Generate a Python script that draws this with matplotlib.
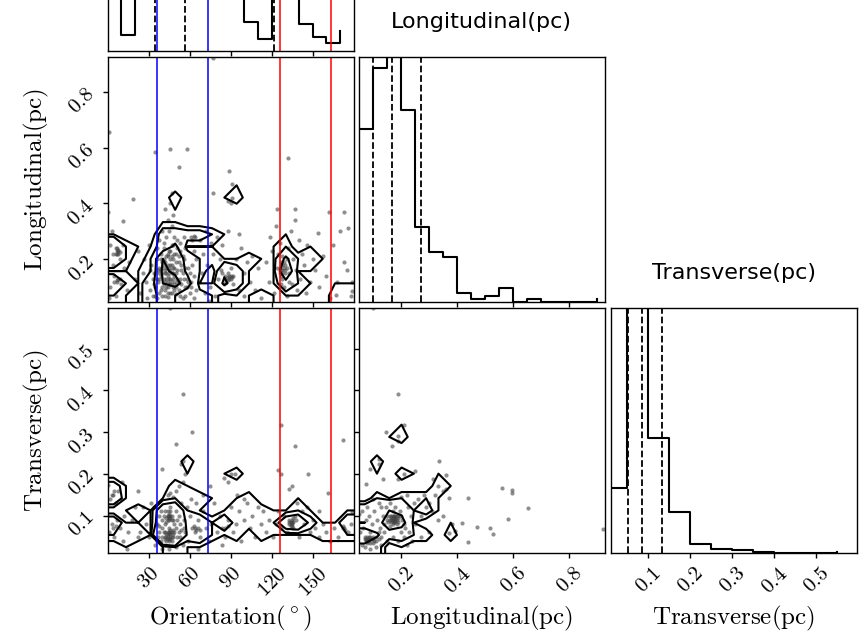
import numpy as np
import matplotlib
matplotlib.use("Agg")
import matplotlib.pyplot as plt
from matplotlib.ticker import FixedLocator, FuncFormatter, NullLocator

plt.rcParams['mathtext.fontset'] = 'cm'
plt.rcParams['font.family'] = ['DejaVu Sans']

# ---------------- data ----------------
# 1D histograms: left bin edges and counts
ori_left = np.arange(0, 171, 10)
ori_counts = [40, 8, 45, 60, 70, 55, 40, 35, 35, 35, 14, 6, 35, 35, 13, 7, 4, 10]
lon_left = np.round(np.arange(0.05, 0.901, 0.05), 3)
lon_counts = [62, 84, 100, 69, 27, 18, 16, 3, 1, 2, 5, 0, 1, 0, 0, 0, 0, 1]
tra_left = np.round(np.arange(0.0, 0.551, 0.05), 3)
tra_counts = [41, 240, 73, 26, 6, 3, 2, 1, 0, 0, 0, 1]

# quantile (dashed) lines
ori_q = [35.1, 56.7, 122.0]
lon_q = [0.098, 0.167, 0.270]
tra_q = [0.051, 0.086, 0.133]
# reference orientation lines
blue_lines = [36.2, 73.5]
red_lines = [126.2, 163.5]

# axis ranges
ori_range = (0.0, 180.0)
lon_range = (0.048, 0.926)
tra_range = (0.0098, 0.597)

ori_ticks = [30, 60, 90, 120, 150]
lon_ticks = [0.2, 0.4, 0.6, 0.8]
tra_ticks = [0.1, 0.2, 0.3, 0.4, 0.5]

# scatter: Orientation vs Longitudinal
pts_A = np.array([
    (1, 0.655), (35, 0.585), (46, 0.596), (58, 0.596), (52, 0.53), (132, 0.563), (89, 0.518),
    (91, 0.47), (19, 0.415), (47, 0.438), (77, 0.436), (11, 0.336), (0.5, 0.37), (124, 0.381),
    (137, 0.381), (162, 0.37), (173, 0.37), (176, 0.313), (154, 0.293), (173, 0.19), (179, 0.12),
    (179, 0.087), (167, 0.073), (77, 0.92),
    (36, 0.06), (38, 0.08), (40, 0.07), (42, 0.09), (44, 0.065), (46, 0.08), (48, 0.1), (50, 0.075),
    (52, 0.09), (54, 0.11), (37, 0.12), (39, 0.14), (41, 0.11), (43, 0.13), (45, 0.15), (47, 0.12),
    (49, 0.14), (51, 0.16), (53, 0.13), (55, 0.15), (38, 0.17), (40, 0.19), (42, 0.16), (44, 0.18),
    (46, 0.2), (48, 0.17), (50, 0.19), (52, 0.21), (54, 0.18), (56, 0.2), (39, 0.22), (41, 0.24),
    (43, 0.21), (45, 0.23), (47, 0.25), (49, 0.22), (51, 0.24), (53, 0.26), (35, 0.1), (34, 0.15),
    (36, 0.2), (57, 0.1), (58, 0.13), (59, 0.17), (60, 0.08), (61, 0.12), (57, 0.24), (44, 0.1),
    (46, 0.13), (48, 0.15), (42, 0.12), (45, 0.17), (47, 0.18), (49, 0.11), (43, 0.15), (46, 0.16),
    (44, 0.14), (50, 0.12), (41, 0.18), (39, 0.09), (53, 0.07), (55, 0.06), (57, 0.07), (33, 0.07),
    (31, 0.09), (32, 0.18), (30, 0.25), (28, 0.12), (27, 0.2), (29, 0.06),
    (40, 0.1), (41, 0.13), (42, 0.15), (43, 0.17), (44, 0.12), (45, 0.13), (46, 0.11), (47, 0.15),
    (48, 0.13), (49, 0.17), (50, 0.15), (51, 0.13), (45, 0.11), (43, 0.1), (47, 0.08), (49, 0.09),
    (44, 0.08), (42, 0.07), (40, 0.15), (46, 0.18), (48, 0.2), (50, 0.1), (52, 0.12), (41, 0.2),
    (44, 0.22), (47, 0.21), (38, 0.13), (39, 0.16),
    (34, 0.11), (36, 0.13), (38, 0.15), (40, 0.17), (42, 0.19), (44, 0.21), (46, 0.23), (48, 0.25),
    (50, 0.22), (52, 0.19), (54, 0.16), (56, 0.13), (58, 0.1), (60, 0.15), (62, 0.18), (35, 0.07),
    (37, 0.16), (39, 0.2), (41, 0.26), (43, 0.28), (45, 0.3), (47, 0.32), (49, 0.28), (51, 0.27),
    (53, 0.23), (55, 0.21), (57, 0.17), (59, 0.12), (61, 0.1), (63, 0.14), (33, 0.13), (31, 0.16),
    (36, 0.24), (38, 0.27), (40, 0.3), (44, 0.34), (48, 0.36), (46, 0.4), (42, 0.38), (56, 0.28),
    (63, 0.06), (65, 0.09), (67, 0.12), (69, 0.15), (71, 0.08), (73, 0.18), (75, 0.1), (77, 0.22),
    (79, 0.07), (81, 0.13), (83, 0.16), (85, 0.11), (86, 0.14), (87, 0.12), (88, 0.15), (89, 0.13),
    (90, 0.17), (92, 0.11), (94, 0.2), (96, 0.09), (98, 0.24), (100, 0.15), (102, 0.19), (104, 0.12),
    (106, 0.21), (108, 0.09), (110, 0.17), (65, 0.2), (68, 0.27), (72, 0.3), (76, 0.26), (80, 0.28),
    (84, 0.25), (88, 0.3), (63, 0.23), (70, 0.22), (90, 0.4), (88, 0.41), (91, 0.42), (64, 0.28),
    (62, 0.27), (100, 0.07), (112, 0.06), (96, 0.29), (74, 0.05), (82, 0.2),
    (86, 0.13), (88, 0.135), (90, 0.14), (84, 0.15), (92, 0.14),
    (89, 0.14), (90, 0.13), (91, 0.135), (88, 0.125), (61, 0.28), (63, 0.285),
    (116, 0.19), (118, 0.12), (120, 0.23), (122, 0.08), (124, 0.17), (126, 0.26), (127, 0.14),
    (128, 0.21), (129, 0.1), (130, 0.18), (131, 0.07), (132, 0.24), (133, 0.15), (134, 0.3),
    (135, 0.11), (136, 0.2), (137, 0.34), (138, 0.16), (139, 0.09), (140, 0.27), (141, 0.13),
    (142, 0.22), (144, 0.18), (146, 0.25), (148, 0.12), (150, 0.2), (125, 0.22), (127, 0.19),
    (128, 0.16), (131, 0.2), (133, 0.12), (119, 0.28), (123, 0.32), (145, 0.08), (152, 0.16),
    (126, 0.17), (128, 0.13), (130, 0.15), (129, 0.19), (127, 0.11),
    (127, 0.16), (128, 0.18), (129, 0.17), (130, 0.16), (127, 0.18), (128, 0.15), (126, 0.15),
    (131, 0.17),
    (2, 0.1), (4, 0.22), (5, 0.14), (6, 0.24), (7, 0.12), (8, 0.23), (9, 0.2), (10, 0.11), (3, 0.3),
    (1, 0.06), (6, 0.07), (12, 0.17), (14, 0.09), (16, 0.19), (20, 0.13), (22, 0.23),
    (24, 0.08), (26, 0.15), (8, 0.13), (4, 0.18), (11, 0.25), (2, 0.25),
    (6, 0.22), (7, 0.23), (5, 0.12), (7, 0.22), (8, 0.235), (9, 0.225), (8, 0.22), (7, 0.24),
    (7, 0.125), (9, 0.13),
    (155, 0.1), (158, 0.21), (160, 0.14), (163, 0.06), (165, 0.25), (168, 0.12), (170, 0.3),
    (175, 0.16), (178, 0.07),
])
ori_A, lon_A = pts_A.T

# scatter: Orientation vs Transverse
pts_B = np.array([
    (45.7, 0.597), (55.5, 0.392), (61.6, 0.301), (50, 0.272), (40.2, 0.213),
    (35, 0.03), (37, 0.05), (39, 0.04), (41, 0.06), (43, 0.05), (45, 0.07), (47, 0.04), (49, 0.06),
    (51, 0.05), (53, 0.08), (55, 0.03), (57, 0.06), (59, 0.04), (36, 0.08), (38, 0.1), (40, 0.09),
    (42, 0.11), (44, 0.1), (46, 0.12), (48, 0.09), (50, 0.11), (52, 0.1), (54, 0.13), (56, 0.09),
    (58, 0.12), (60, 0.1), (44, 0.15), (46, 0.155), (48, 0.145), (42, 0.06), (44, 0.055), (46, 0.05),
    (48, 0.065), (40, 0.07), (38, 0.06), (45, 0.09), (47, 0.1), (43, 0.085), (49, 0.08), (51, 0.09),
    (34, 0.12), (32, 0.13), (30, 0.05), (28, 0.08), (26, 0.12), (24, 0.06), (55, 0.18), (52, 0.17),
    (57, 0.2), (50, 0.16), (62, 0.07), (61, 0.14), (45, 0.02), (50, 0.025), (40, 0.02), (54, 0.065),
    (56, 0.07), (39, 0.11),
    (40, 0.05), (42, 0.045), (44, 0.06), (46, 0.065), (48, 0.05), (43, 0.04), (45, 0.045),
    (41, 0.1), (43, 0.095), (45, 0.1), (47, 0.09), (44, 0.11), (46, 0.095), (42, 0.08), (47, 0.06),
    (52, 0.06), (50, 0.07), (53, 0.05), (38, 0.075), (36, 0.04),
    (44, 0.05), (45, 0.055), (46, 0.045), (45, 0.06), (44, 0.045), (46, 0.055), (47, 0.05),
    (43, 0.055), (45, 0.04), (42, 0.05), (48, 0.055), (46, 0.06),
    (44, 0.1), (45, 0.105), (46, 0.1), (45, 0.095), (44, 0.09), (46, 0.11),
    (55, 0.23), (54, 0.225),
    (64, 0.06), (66, 0.09), (68, 0.05), (70, 0.11), (72, 0.07), (74, 0.04), (76, 0.08), (78, 0.13),
    (80, 0.06), (82, 0.1), (84, 0.07), (86, 0.05), (88, 0.09), (90, 0.12), (92, 0.06), (94, 0.08),
    (96, 0.11), (98, 0.04), (100, 0.09), (102, 0.13), (104, 0.07), (106, 0.1), (108, 0.05),
    (110, 0.12), (112, 0.08), (114, 0.11), (116, 0.06), (118, 0.09), (85, 0.19), (88, 0.18),
    (90, 0.2), (93, 0.2), (70, 0.15), (75, 0.17), (95, 0.15), (65, 0.13), (100, 0.14), (84, 0.03),
    (66, 0.02), (66, 0.07), (68, 0.065), (86, 0.07), (88, 0.075),
    (64, 0.07), (65, 0.065), (63, 0.075),
    (121, 0.05), (123, 0.08), (125, 0.11), (127, 0.07), (129, 0.1), (131, 0.06), (133, 0.09),
    (134, 0.08), (135, 0.085), (136, 0.07), (137, 0.1), (138, 0.09), (139, 0.13), (140, 0.05),
    (142, 0.11), (144, 0.08), (146, 0.12), (148, 0.06), (150, 0.09), (152, 0.07), (155, 0.05),
    (158, 0.08), (160, 0.06), (163, 0.04), (166, 0.07), (169, 0.05), (172, 0.07), (174, 0.065),
    (176, 0.06), (178, 0.08), (135, 0.17), (133, 0.165), (127, 0.2), (147, 0.2), (125, 0.21),
    (161, 0.155), (155, 0.112), (179, 0.108), (137, 0.268), (127, 0.318), (172.6, 0.282),
    (133, 0.08), (135, 0.09), (136, 0.095), (134, 0.075),
    (134, 0.085), (135, 0.08), (136, 0.085), (135, 0.075), (133, 0.085), (173, 0.07), (172, 0.075),
    (1, 0.06), (3, 0.08), (5, 0.05), (7, 0.09), (9, 0.07), (11, 0.04), (2, 0.14), (4, 0.15),
    (6, 0.13), (8, 0.16), (10, 0.14), (12, 0.1), (15, 0.06), (18, 0.09), (20, 0.12), (22, 0.05),
    (0.6, 0.174), (10.4, 0.18), (22.5, 0.16), (14, 0.02),
    (3, 0.15), (5, 0.16), (4, 0.07), (6, 0.075),
])
ori_B, tra_B = pts_B.T

# scatter: Longitudinal vs Transverse
pts_C = np.array([
    (0.098, 0.597), (0.19, 0.392), (0.145, 0.301), (0.212, 0.318), (0.169, 0.268), (0.19, 0.28),
    (0.19, 0.29), (0.088, 0.213), (0.122, 0.225), (0.122, 0.235), (0.076, 0.176), (0.134, 0.188),
    (0.19, 0.188), (0.212, 0.2), (0.248, 0.208), (0.336, 0.232), (0.36, 0.198), (0.315, 0.188),
    (0.372, 0.142), (0.439, 0.143), (0.561, 0.167), (0.595, 0.155), (0.595, 0.162), (0.652, 0.118),
    (0.583, 0.091), (0.416, 0.082), (0.471, 0.072), (0.516, 0.071), (0.528, 0.057), (0.439, 0.037),
    (0.372, 0.058), (0.392, 0.063), (0.921, 0.068), (0.05, 0.105),
    (0.06, 0.03), (0.07, 0.05), (0.08, 0.04), (0.09, 0.06), (0.1, 0.035), (0.11, 0.05), (0.12, 0.045),
    (0.065, 0.07), (0.075, 0.09), (0.085, 0.1), (0.095, 0.08), (0.105, 0.11), (0.115, 0.09),
    (0.125, 0.07), (0.135, 0.1), (0.145, 0.12), (0.155, 0.085), (0.165, 0.095), (0.175, 0.1),
    (0.185, 0.08), (0.195, 0.11), (0.205, 0.09), (0.215, 0.07), (0.225, 0.12), (0.235, 0.1),
    (0.245, 0.13), (0.16, 0.075), (0.17, 0.11), (0.18, 0.09), (0.19, 0.095), (0.2, 0.06),
    (0.15, 0.1), (0.14, 0.08), (0.13, 0.12), (0.12, 0.13), (0.1, 0.14), (0.08, 0.12), (0.06, 0.11),
    (0.055, 0.06), (0.07, 0.025), (0.09, 0.02), (0.11, 0.025), (0.13, 0.03), (0.15, 0.04),
    (0.17, 0.05), (0.19, 0.04), (0.21, 0.05), (0.23, 0.06), (0.25, 0.08), (0.27, 0.1), (0.29, 0.12),
    (0.31, 0.11), (0.33, 0.09), (0.35, 0.1), (0.38, 0.08), (0.26, 0.14), (0.28, 0.15), (0.3, 0.13),
    (0.32, 0.15), (0.35, 0.16), (0.36, 0.165), (0.33, 0.17), (0.22, 0.15), (0.2, 0.145),
    (0.16, 0.13), (0.18, 0.12), (0.17, 0.085), (0.175, 0.09), (0.18, 0.1), (0.165, 0.1),
    (0.19, 0.085), (0.1, 0.05), (0.095, 0.045), (0.105, 0.04), (0.085, 0.05), (0.24, 0.04),
    (0.27, 0.05), (0.3, 0.06), (0.22, 0.03),
    (0.17, 0.09), (0.18, 0.095), (0.185, 0.09), (0.175, 0.085), (0.17, 0.1), (0.19, 0.1),
    (0.16, 0.09), (0.2, 0.1), (0.15, 0.09), (0.21, 0.08), (0.09, 0.045), (0.1, 0.045),
    (0.08, 0.045), (0.11, 0.04), (0.09, 0.035), (0.12, 0.06), (0.14, 0.06), (0.13, 0.05),
    (0.075, 0.045), (0.08, 0.04), (0.085, 0.045), (0.08, 0.05), (0.075, 0.04), (0.085, 0.04),
    (0.07, 0.045), (0.09, 0.05), (0.08, 0.035),
    (0.165, 0.09), (0.17, 0.095), (0.175, 0.095), (0.18, 0.085), (0.17, 0.08), (0.165, 0.085),
    (0.18, 0.09), (0.16, 0.1), (0.185, 0.1), (0.175, 0.1),
])
lon_C, tra_C = pts_C.T

# ---------------- figure ----------------
W, H = 866, 636
fig = plt.figure(figsize=(W / 100, H / 100), dpi=100)

def add_ax(x0, ytop, w=246, h=245):
    return fig.add_axes([x0 / W, 1 - (ytop + h) / H, w / W, h / H])

cols = [107.5, 358.5, 610.5]
rows = [51 - 245, 56.7, 308.3]

LAB = 18
TICK = 15
fmt = FuncFormatter(lambda v, p: r'$%g$' % v)

def style(ax):
    for s in ax.spines.values():
        s.set_linewidth(1.0)
    ax.tick_params(direction='out', length=3.5, width=1.0, labelsize=TICK)

def hist(ax, left, counts, rng, ymax, quant):
    ax.step(left, counts, where='post', color='k', lw=1.5)
    for q in quant:
        ax.axvline(q, color='k', ls='--', lw=1.3)
    ax.set_xlim(rng)
    ax.set_ylim(0, ymax)
    ax.yaxis.set_major_locator(NullLocator())

def density_contour(ax, x, y, xr, yr, bins=20):
    levels = 1.0 - np.exp(-0.5 * np.arange(0.5, 2.1, 0.5) ** 2)
    Hh, X, Y = np.histogram2d(x, y, bins=bins, range=[xr, yr])
    Hflat = np.sort(Hh.flatten())[::-1]
    sm = np.cumsum(Hflat)
    sm /= sm[-1]
    V = np.empty(len(levels))
    for i, v0 in enumerate(levels):
        try:
            V[i] = Hflat[sm <= v0][-1]
        except IndexError:
            V[i] = Hflat[0]
    V.sort()
    m = np.diff(V) == 0
    while np.any(m):
        V[np.where(m)[0][0]] *= 1.0 - 1e-4
        m = np.diff(V) == 0
    V.sort()
    X1, Y1 = 0.5 * (X[1:] + X[:-1]), 0.5 * (Y[1:] + Y[:-1])
    H2 = Hh.min() + np.zeros((Hh.shape[0] + 4, Hh.shape[1] + 4))
    H2[2:-2, 2:-2] = Hh
    H2[2:-2, 1] = Hh[:, 0]
    H2[2:-2, -2] = Hh[:, -1]
    H2[1, 2:-2] = Hh[0]
    H2[-2, 2:-2] = Hh[-1]
    H2[1, 1] = Hh[0, 0]
    H2[1, -2] = Hh[0, -1]
    H2[-2, 1] = Hh[-1, 0]
    H2[-2, -2] = Hh[-1, -1]
    X2 = np.concatenate([X1[0] + np.array([-2, -1]) * np.diff(X1[:2]), X1,
                         X1[-1] + np.array([1, 2]) * np.diff(X1[-2:])])
    Y2 = np.concatenate([Y1[0] + np.array([-2, -1]) * np.diff(Y1[:2]), Y1,
                         Y1[-1] + np.array([1, 2]) * np.diff(Y1[-2:])])
    ax.contour(X2, Y2, H2.T, V, colors='k', linewidths=1.5)

def scatter(ax, x, y):
    ax.plot(x, y, 'o', ms=3.0, color='#444444', alpha=0.6, mec='none')

def orient_lines(ax):
    for v in blue_lines:
        ax.axvline(v, color='#0000ff', lw=1.1)
    for v in red_lines:
        ax.axvline(v, color='#ff0000', lw=1.1)

# top histogram: orientation
ax0 = add_ax(cols[0], rows[0])
hist(ax0, ori_left, ori_counts, ori_range, 120, ori_q)
orient_lines(ax0)
ax0.xaxis.set_major_locator(FixedLocator(ori_ticks))
ax0.set_xticklabels([])
style(ax0)

# row 2: orientation vs longitudinal
axA = add_ax(cols[0], rows[1])
scatter(axA, ori_A, lon_A)
density_contour(axA, ori_A, lon_A, ori_range, lon_range)
orient_lines(axA)
axA.set_xlim(ori_range)
axA.set_ylim(lon_range)
axA.xaxis.set_major_locator(FixedLocator(ori_ticks))
axA.set_xticklabels([])
axA.yaxis.set_major_locator(FixedLocator(lon_ticks))
axA.yaxis.set_major_formatter(fmt)
axA.set_ylabel(r'$\mathrm{Longitudinal(pc)}$', fontsize=LAB)
axA.yaxis.set_label_coords(-0.23, 0.5)
style(axA)
for l in axA.get_yticklabels():
    l.set_rotation(45)

# longitudinal histogram
axL = add_ax(cols[1], rows[1])
hist(axL, lon_left, lon_counts, lon_range, 88, lon_q)
axL.xaxis.set_major_locator(FixedLocator(lon_ticks))
axL.set_xticklabels([])
axL.set_title('Longitudinal(pc)', fontsize=16, pad=21)
style(axL)

# row 3: orientation vs transverse
axB = add_ax(cols[0], rows[2])
scatter(axB, ori_B, tra_B)
density_contour(axB, ori_B, tra_B, ori_range, tra_range)
orient_lines(axB)
axB.set_xlim(ori_range)
axB.set_ylim(tra_range)
axB.xaxis.set_major_locator(FixedLocator(ori_ticks))
axB.xaxis.set_major_formatter(fmt)
axB.yaxis.set_major_locator(FixedLocator(tra_ticks))
axB.yaxis.set_major_formatter(fmt)
axB.set_ylabel(r'$\mathrm{Transverse(pc)}$', fontsize=LAB)
axB.yaxis.set_label_coords(-0.23, 0.5)
axB.set_xlabel(r'$\mathrm{Orientation}(^\circ)$', fontsize=LAB)
axB.xaxis.set_label_coords(0.5, -0.205)
style(axB)
for l in axB.get_xticklabels() + axB.get_yticklabels():
    l.set_rotation(45)

# longitudinal vs transverse
axC = add_ax(cols[1], rows[2])
scatter(axC, lon_C, tra_C)
density_contour(axC, lon_C, tra_C, lon_range, tra_range)
axC.set_xlim(lon_range)
axC.set_ylim(tra_range)
axC.xaxis.set_major_locator(FixedLocator(lon_ticks))
axC.xaxis.set_major_formatter(fmt)
axC.yaxis.set_major_locator(FixedLocator(tra_ticks))
axC.set_yticklabels([])
axC.set_xlabel(r'$\mathrm{Longitudinal(pc)}$', fontsize=LAB)
axC.xaxis.set_label_coords(0.5, -0.205)
style(axC)
for l in axC.get_xticklabels():
    l.set_rotation(45)

# transverse histogram
axT = add_ax(cols[2], rows[2])
hist(axT, tra_left, tra_counts, tra_range, 155, tra_q)
axT.xaxis.set_major_locator(FixedLocator(tra_ticks))
axT.xaxis.set_major_formatter(fmt)
axT.set_xlabel(r'$\mathrm{Transverse(pc)}$', fontsize=LAB)
axT.xaxis.set_label_coords(0.5, -0.205)
axT.set_title('Transverse(pc)', fontsize=16, pad=21)
style(axT)
for l in axT.get_xticklabels():
    l.set_rotation(45)

fig.savefig('out.png', dpi=100)
